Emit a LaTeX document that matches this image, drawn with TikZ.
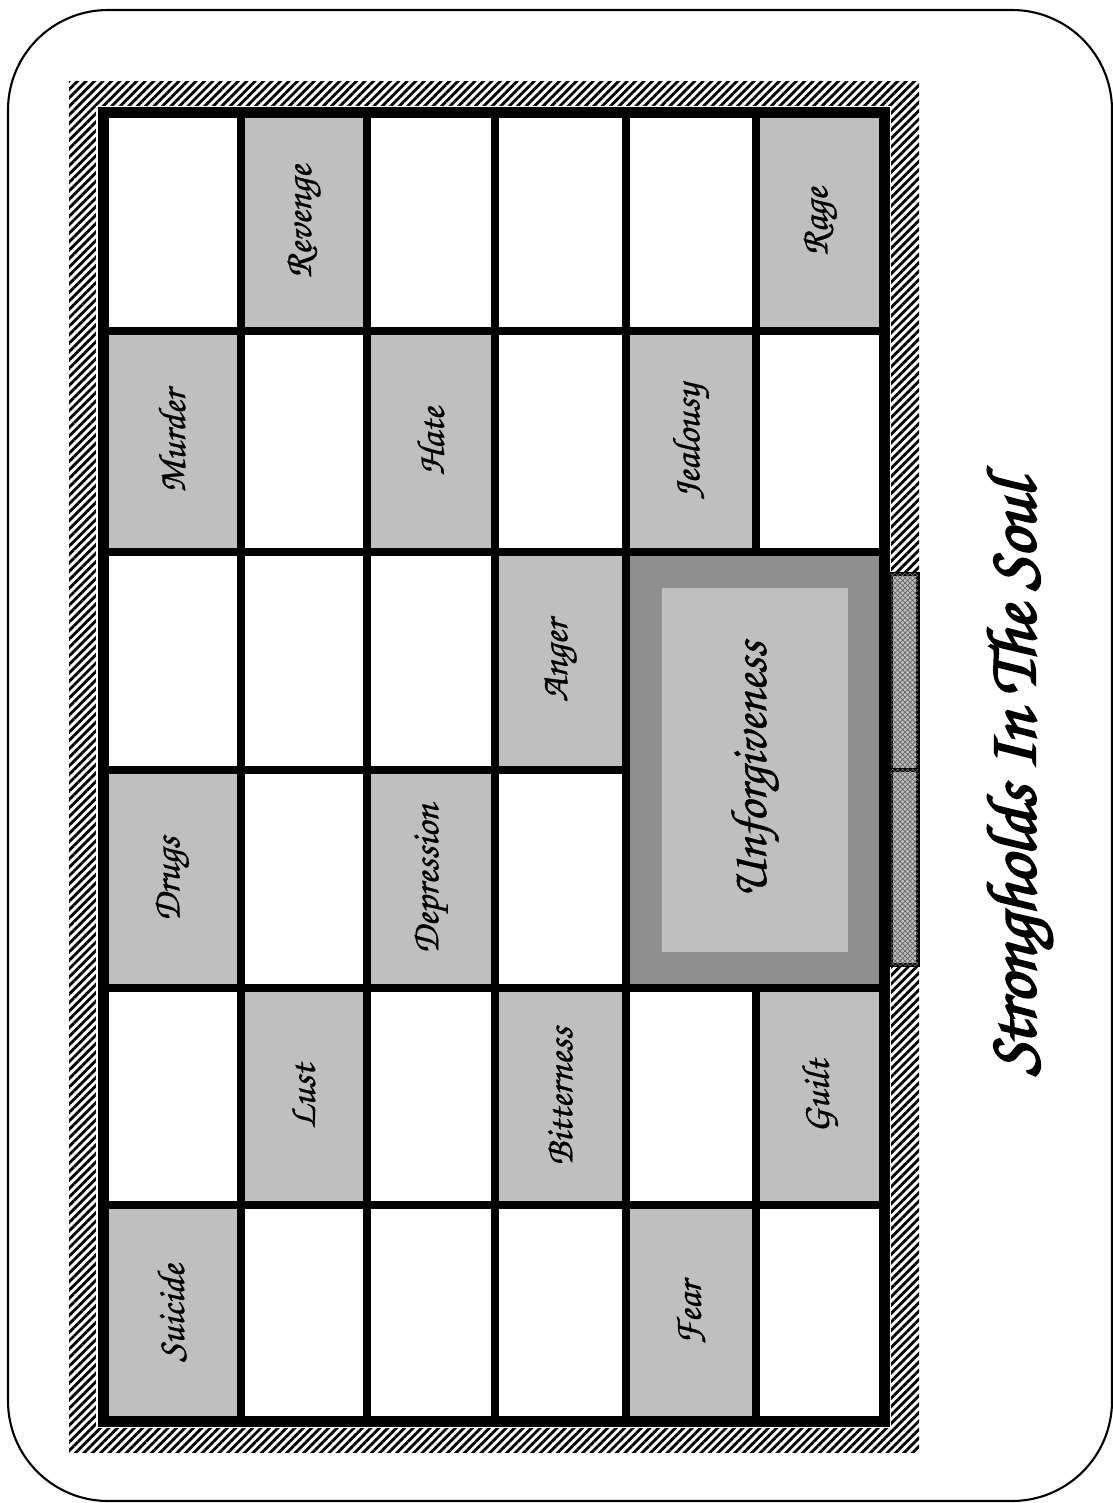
\documentclass[tikz,border=0pt]{standalone}
\usepackage{fontspec}
\usetikzlibrary{patterns.meta}
\newfontfamily\handfont[FakeBold=0.8]{texgyrechorus-mediumitalic.otf}
\newfontfamily\handbold[FakeBold=3]{texgyrechorus-mediumitalic.otf}
\definecolor{cellgray}{gray}{0.75}
\definecolor{boxgray}{HTML}{8F8F8F}
\begin{document}
\begin{tikzpicture}[x=0.01cm, y=-0.01cm,
  cellline/.style={draw=black, line width=0.8mm},
  wallhatch/.style={pattern={Lines[angle=45,distance=1.7pt,line width=0.8pt]}},
  lbl/.style={rotate=90, font=\handfont\fontsize{11}{13}\selectfont, inner sep=0pt},
  biglbl/.style={rotate=90, font=\handfont\fontsize{14.5}{17}\selectfont, inner sep=0pt},
  titlelbl/.style={rotate=90, font=\handbold\fontsize{20}{24}\selectfont, inner sep=0pt},
  doorbox/.style={draw, line width=0.4mm, fill=cellgray,
    postaction={pattern={Hatch[angle=45,distance=1pt,line width=0.2pt]},pattern color=black!60},
    minimum width=0.27cm, inner sep=0pt}]
\useasboundingbox (0,0) rectangle (1113,1503);
\draw[line width=0.6pt, rounded corners=1cm] (8,10) rectangle (1112,1501);
\fill[wallhatch] (69,82) rectangle (919,1452);
\fill[white] (96,106) rectangle (891,1428);
\foreach \xa/\ya/\xb/\yb in {241/112.5/367/331, 756/112.5/884.5/331,
    103.5/331/241/552, 367/331/495/552, 626/331/756/552,
    495/552/626/770,
    103.5/770/241/988, 367/770/495/988,
    241/988/367/1205, 495/988/626/1205, 756/988/884.5/1205,
    103.5/1205/241/1421.5, 626/1205/756/1421.5}
  \fill[cellgray] (\xa,\ya) rectangle (\xb,\yb);
\fill[boxgray] (626,552) rectangle (884.5,988);
\foreach \x in {241,367,495,626}
  \draw[cellline] (\x,112.5) -- (\x,1421.5);
\draw[cellline] (756,112.5) -- (756,552);
\draw[cellline] (756,988) -- (756,1421.5);
\foreach \y in {331,552,988,1205}
  \draw[cellline] (103.5,\y) -- (884.5,\y);
\draw[cellline] (103.5,770) -- (626,770);
\draw[draw=black, line width=1.1mm] (103.5,112.5) rectangle (884.5,1421.5);
\node[fill=cellgray, minimum width=1.86cm, minimum height=3.64cm, inner sep=0pt] (unfbox) at (755,770) {};
\node[doorbox, minimum height=1.96cm] (doorA) at (904.5,672) {};
\node[doorbox, minimum height=1.95cm] (doorB) at (904.5,867.5) {};
\foreach \nm/\cx/\cy/\txt in {revenge/304/221.75/Revenge, rage/820.25/221.75/Rage,
    murder/172.25/441.5/Murder, hate/431/441.5/Hate, jealousy/691/441.5/Jealousy,
    anger/560.5/661/Anger,
    drugs/172.25/879/Drugs, depression/431/879/Depression,
    lust/304/1096.5/Lust, bitterness/560.5/1096.5/Bitterness, guilt/820.25/1096.5/Guilt,
    suicide/172.25/1313.25/Suicide, fear/691/1313.25/Fear}
  \node[lbl] (\nm) at (\cx,\cy) {\txt};
\node[biglbl] (unforgiveness) at (unfbox) {Unforgiveness};
\node[titlelbl] (title) at (1020,778) {Strongholds In The Soul};
\end{tikzpicture}
\end{document}
